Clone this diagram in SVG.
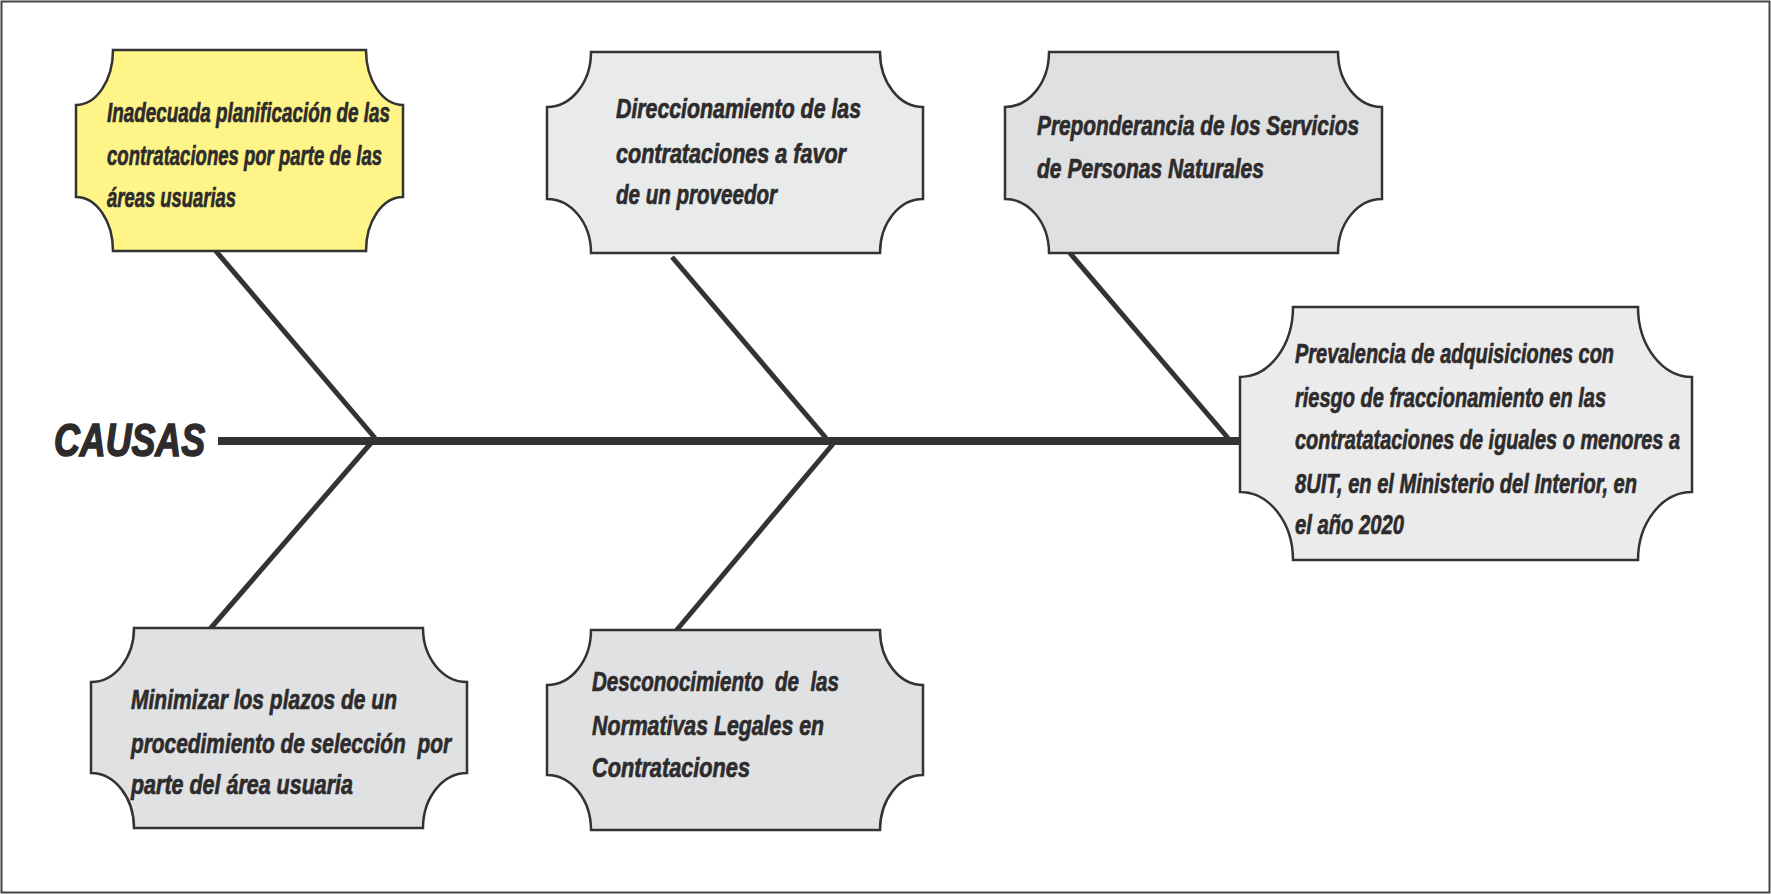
<svg xmlns="http://www.w3.org/2000/svg" width="1771" height="894" viewBox="0 0 1771 894">
<style>
.box{stroke:#333;stroke-width:2.5;stroke-linejoin:miter}
.t{font-family:"Liberation Sans",Arial,sans-serif;font-weight:bold;font-style:italic;font-size:28px;fill:#2d2b2c;stroke:#2d2b2c;stroke-width:0.7}
.bone{stroke:#333;stroke-width:5;stroke-linecap:butt;fill:none}
</style>
<rect x="1.5" y="1.5" width="1768" height="891" fill="#fff" stroke="#444" stroke-width="2"/>
<g id="connectors">
<line class="bone" x1="218" y1="441" x2="1240" y2="441" style="stroke-width:8"/>
<line class="bone" x1="215" y1="250" x2="375" y2="438"/>
<line class="bone" x1="371" y1="443" x2="210" y2="629"/>
<line class="bone" x1="672" y1="257" x2="826" y2="438"/>
<line class="bone" x1="833" y1="444" x2="675" y2="632"/>
<line class="bone" x1="1069" y1="252" x2="1228" y2="438"/>
</g>
<g id="causas">
<text class="t" x="54" y="456" style="font-size:46px;stroke-width:1.6" textLength="151" lengthAdjust="spacingAndGlyphs">CAUSAS</text>
</g>
<g id="n1">
<path class="box" fill="#fef487" d="M113 50 H366 A37 55 0 0 0 403 105 V197 A37 54 0 0 0 366 251 H113 A37 54 0 0 0 76 197 V105 A37 55 0 0 0 113 50 Z"/>
<text class="t" x="107" y="122" textLength="283" lengthAdjust="spacingAndGlyphs">Inadecuada planificación de las</text>
<text class="t" x="107" y="165" textLength="275" lengthAdjust="spacingAndGlyphs">contrataciones por parte de las</text>
<text class="t" x="107" y="207" textLength="129" lengthAdjust="spacingAndGlyphs">áreas usuarias</text>
</g>
<g id="n2">
<path class="box" fill="#e9eaea" d="M591 52 H880 A43 55 0 0 0 923 107 V199 A43 54 0 0 0 880 253 H591 A44 54 0 0 0 547 199 V107 A44 55 0 0 0 591 52 Z"/>
<text class="t" x="616" y="118" textLength="245" lengthAdjust="spacingAndGlyphs">Direccionamiento de las</text>
<text class="t" x="616" y="163" textLength="230" lengthAdjust="spacingAndGlyphs">contrataciones a favor</text>
<text class="t" x="616" y="204" textLength="161" lengthAdjust="spacingAndGlyphs">de un proveedor</text>
</g>
<g id="n3">
<path class="box" fill="#dfe0e1" d="M1049 52 H1338 A44 55 0 0 0 1382 107 V199 A44 54 0 0 0 1338 253 H1049 A44 54 0 0 0 1005 199 V107 A44 55 0 0 0 1049 52 Z"/>
<text class="t" x="1037" y="135" textLength="322" lengthAdjust="spacingAndGlyphs">Preponderancia de los Servicios</text>
<text class="t" x="1037" y="178" textLength="227" lengthAdjust="spacingAndGlyphs">de Personas Naturales</text>
</g>
<g id="n4">
<path class="box" fill="#ebebeb" d="M1293 307 H1638 A54 70 0 0 0 1692 377 V492 A54 68 0 0 0 1638 560 H1293 A53 68 0 0 0 1240 492 V377 A53 70 0 0 0 1293 307 Z"/>
<text class="t" x="1295" y="363" textLength="319" lengthAdjust="spacingAndGlyphs">Prevalencia de adquisiciones con</text>
<text class="t" x="1295" y="407" textLength="311" lengthAdjust="spacingAndGlyphs">riesgo de fraccionamiento en las</text>
<text class="t" x="1295" y="449" textLength="385" lengthAdjust="spacingAndGlyphs">contratataciones de iguales o menores a</text>
<text class="t" x="1295" y="493" textLength="342" lengthAdjust="spacingAndGlyphs">8UIT, en el Ministerio del Interior, en</text>
<text class="t" x="1295" y="534" textLength="109" lengthAdjust="spacingAndGlyphs">el año 2020</text>
</g>
<g id="n5">
<path class="box" fill="#e0e1e2" d="M134 628 H423 A44 54 0 0 0 467 682 V773 A44 55 0 0 0 423 828 H134 A43 55 0 0 0 91 773 V682 A43 54 0 0 0 134 628 Z"/>
<text class="t" x="131" y="709" textLength="266" lengthAdjust="spacingAndGlyphs">Minimizar los plazos de un</text>
<text class="t" x="131" y="753" textLength="320" lengthAdjust="spacingAndGlyphs" xml:space="preserve">procedimiento de selección  por</text>
<text class="t" x="131" y="794" textLength="222" lengthAdjust="spacingAndGlyphs">parte del área usuaria</text>
</g>
<g id="n6">
<path class="box" fill="#e0e1e2" d="M591 630 H880 A43 55 0 0 0 923 685 V775 A43 55 0 0 0 880 830 H591 A44 55 0 0 0 547 775 V685 A44 55 0 0 0 591 630 Z"/>
<text class="t" x="592" y="691" textLength="247" lengthAdjust="spacingAndGlyphs" xml:space="preserve">Desconocimiento  de  las</text>
<text class="t" x="592" y="735" textLength="232" lengthAdjust="spacingAndGlyphs">Normativas Legales en</text>
<text class="t" x="592" y="777" textLength="158" lengthAdjust="spacingAndGlyphs">Contrataciones</text>
</g>
</svg>
